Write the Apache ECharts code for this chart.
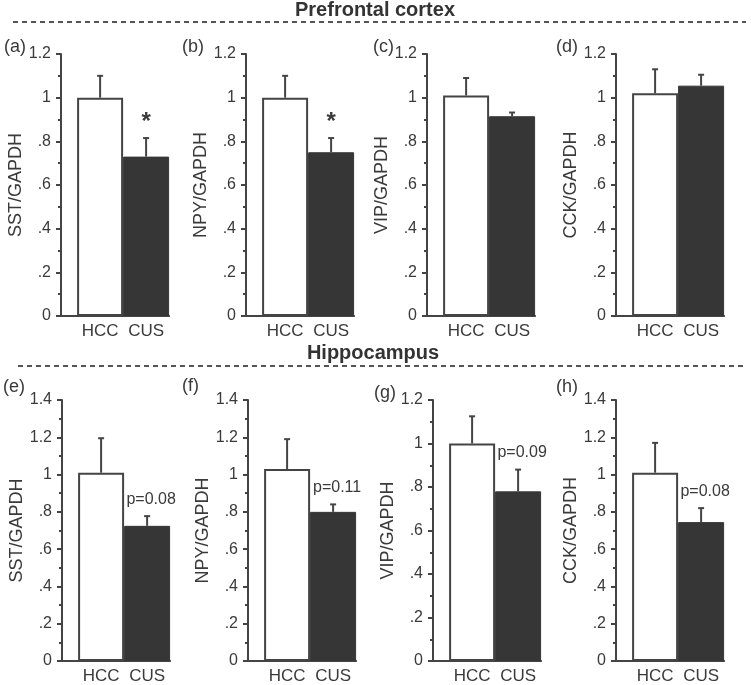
<!DOCTYPE html>
<html>
<head>
<meta charset="utf-8">
<script src="https://cdn.jsdelivr.net/npm/echarts@6/dist/echarts.min.js"></script>
<style>
html,body{margin:0;padding:0;background:#fff;}
#chart{width:751px;height:685px;}
</style>
</head>
<body>
<div id="chart"></div>
<script>
// ---- data ----
const categories = ['HCC', 'CUS'];
const panelLabels = ['(a)', '(b)', '(c)', '(d)', '(e)', '(f)', '(g)', '(h)'];
const yNames = ['SST/GAPDH', 'NPY/GAPDH', 'VIP/GAPDH', 'CCK/GAPDH', 'SST/GAPDH', 'NPY/GAPDH', 'VIP/GAPDH', 'CCK/GAPDH'];
const hccMean = [1.00, 1.00, 1.01, 1.02, 1.01, 1.03, 1.00, 1.01];
const hccSem  = [0.10, 0.10, 0.08, 0.11, 0.185, 0.16, 0.125, 0.16];
const cusMean = [0.73, 0.75, 0.915, 1.055, 0.725, 0.80, 0.78, 0.745];
const cusSem  = [0.085, 0.065, 0.017, 0.05, 0.052, 0.04, 0.10, 0.075];
const yMax = [1.2, 1.2, 1.2, 1.2, 1.4, 1.4, 1.2, 1.4];
const annotations = ['*', '*', '', '', 'p=0.08', 'p=0.11', 'p=0.09', 'p=0.08'];
const sectionTitles = ['Prefrontal cortex', 'Hippocampus'];

// ---- layout ----
const BW = 46;                 // bar width in px
const X_MAX = 2.35;            // x domain
const X_POS = [0.85, 1.85];    // bar centres on x domain
const lefts = [[61, 246, 427, 616], [62, 248, 433, 616]];
const rowTop = [54, 400];
const rowH = [262, 262];
const FONT = 'Liberation Sans, Arial, Helvetica, sans-serif';
const TXT = '#3a3a3a';
const AX = '#444';

function fmtY(v) {
  const s = String(+v.toFixed(1));
  if (s === '0') return '0';
  return s.startsWith('0.') ? s.slice(1) : s;
}

const option = {
  animation: false,
  backgroundColor: '#fff',
  textStyle: { fontFamily: FONT },
  grid: [], xAxis: [], yAxis: [], series: [], graphic: []
};

for (let i = 0; i < 8; i++) {
  const row = i < 4 ? 0 : 1, col = i % 4;
  const left = lefts[row][col];
  option.grid.push({ left: left, top: rowTop[row], width: X_MAX * BW, height: rowH[row] });
  option.xAxis.push({
    gridIndex: i, type: 'value', min: 0, max: X_MAX,
    axisLine: { show: true, onZero: false, lineStyle: { color: AX, width: 2 } },
    axisTick: { show: false }, splitLine: { show: false },
    axisLabel: {
      customValues: X_POS, margin: 7, color: TXT, fontSize: 17, fontFamily: FONT,
      formatter: v => categories[Math.round(v - X_POS[0])]
    }
  });
  option.yAxis.push({
    gridIndex: i, type: 'value', min: 0, max: yMax[i], interval: 0.2,
    name: yNames[i], nameLocation: 'middle', nameGap: 34, nameRotate: 90,
    nameTextStyle: { color: TXT, fontSize: 18, fontFamily: FONT },
    axisLine: { show: true, lineStyle: { color: AX, width: 2 } },
    axisTick: { show: true, length: 5, lineStyle: { color: AX, width: 2 } },
    minorTick: { show: true, splitNumber: 2, length: 3, lineStyle: { color: AX, width: 2 } },
    splitLine: { show: false }, minorSplitLine: { show: false },
    axisLabel: { color: TXT, fontSize: 16, margin: 10, fontFamily: FONT, formatter: fmtY }
  });
  option.series.push({
    type: 'bar', xAxisIndex: i, yAxisIndex: i, barWidth: BW,
    data: [
      { value: [X_POS[0], hccMean[i]], itemStyle: { color: '#fff', borderColor: AX, borderWidth: 2 } },
      { value: [X_POS[1], cusMean[i]], itemStyle: { color: '#363636', borderColor: '#363636', borderWidth: 1 } }
    ],
    silent: true
  });
  const idx = i;
  option.series.push({
    type: 'custom', xAxisIndex: i, yAxisIndex: i, clip: false, silent: true, z: 5,
    data: [
      [X_POS[0], hccMean[i], hccMean[i] + hccSem[i]],
      [X_POS[1], cusMean[i], cusMean[i] + cusSem[i]]
    ],
    renderItem: function (params, api) {
      const p0 = api.coord([api.value(0), api.value(1)]);
      const p1 = api.coord([api.value(0), api.value(2)]);
      const children = [
        { type: 'line', shape: { x1: p0[0], y1: p0[1], x2: p1[0], y2: p1[1] }, style: { stroke: AX, lineWidth: 2 } },
        { type: 'line', shape: { x1: p1[0] - 3, y1: p1[1], x2: p1[0] + 3, y2: p1[1] }, style: { stroke: AX, lineWidth: 2 } }
      ];
      const ann = annotations[idx];
      if (params.dataIndex === 1 && ann) {
        const star = ann === '*';
        children.push({
          type: 'text',
          style: {
            text: ann, x: p1[0] + (star ? 0 : 4), y: p1[1] - (star ? 16 : 17),
            align: 'center', verticalAlign: 'middle',
            fill: TXT, font: (star ? 'bold 24px ' : '16px ') + FONT
          }
        });
      }
      return { type: 'group', children: children };
    }
  });
  // panel letter
  const lx = [[4, 182, 373, 556], [3, 182, 374, 556]][row][col];
  const ly = [[47, 47, 47, 47], [387, 386, 393, 387]][row][col];
  option.graphic.push({
    type: 'text', x: lx, y: ly,
    style: { text: panelLabels[i], fill: TXT, font: '18px ' + FONT, verticalAlign: 'middle' }
  });
}

// section headers and dashed separators
const headerX = [375, 373];
const headerY = [10, 353];
const dashY = [22, 366];
const dashX1 = [13, 18];
for (let r = 0; r < 2; r++) {
  option.graphic.push({
    type: 'text', x: headerX[r], y: headerY[r],
    style: { text: sectionTitles[r], fill: '#333', font: 'bold 20px ' + FONT, align: 'center', verticalAlign: 'middle' }
  });
  option.graphic.push({
    type: 'line', shape: { x1: dashX1[r], y1: dashY[r], x2: 746, y2: dashY[r] },
    style: { stroke: '#555', lineWidth: 2, lineDash: [5, 4] }
  });
}

const chart = echarts.init(document.getElementById('chart'), null, { renderer: 'canvas' });
chart.setOption(option);
</script>
</body>
</html>
